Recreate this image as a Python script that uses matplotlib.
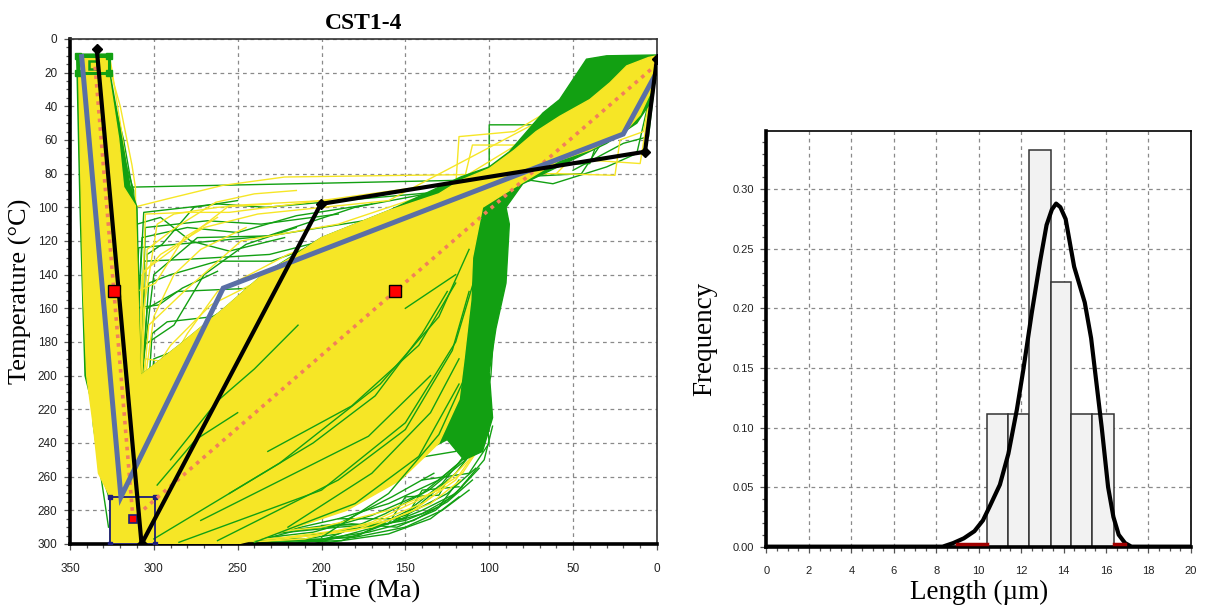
import matplotlib
matplotlib.use('Agg')
import matplotlib.pyplot as plt
from matplotlib.patches import Polygon, Rectangle
from matplotlib.ticker import MultipleLocator, FormatStrFormatter

SERIF = 'Liberation Serif'
SANS = 'Liberation Sans'

GREEN = '#12a012'
YELLOW = '#f6e626'
BLUE = '#5a6fa6'
SALMON = '#f2805a'
NAVY = '#1c1c7a'

# ---- thermal history (time in Ma, temperature in degC) ----
# constraint boxes: (t_old, t_young, T_low, T_high)
box_surface = (345, 327, 10, 20)
box_burial = (326, 299, 272, 300)

# best fit path
best_t = [334, 307.3, 200.4, 7.1, 0]
best_T = [6, 300, 98, 67, 12]

# weighted mean path
mean_t = [343, 319.6, 258.6, 20.1, 0]
mean_T = [10.5, 272, 148, 56.5, 19.5]

# path through constraint midpoints
mid_t = [335, 312.4, 0]
mid_T = [16.5, 285, 15]
mid_marks_t = [323.5, 156.2]
mid_marks_T = [150, 150]

# envelope of good fits
good_env_t = [345, 327, 327, 321, 318, 311, 308, 285, 258, 235, 215, 200, 175, 160, 130, 117,
              100, 85, 72, 58, 40, 28, 18, 5, 0, 0, 3, 10, 20, 40, 58, 88, 104, 110,
              111, 115, 118, 130, 153, 185, 230, 250, 326, 326, 333, 336, 340, 342, 344]
good_env_T = [10, 10, 20, 59, 88, 99, 200, 182, 160, 140, 128, 118, 108, 102, 92, 84,
              77, 66, 55, 46, 36, 26, 16, 11, 10, 20, 30, 45, 56, 66, 72, 90, 100, 130,
              155, 190, 214, 240, 262, 280, 295, 300, 300, 272, 258, 230, 200, 150, 60]

# envelope of acceptable fits
acc_env_t = [346, 326, 326, 319, 314, 310, 308, 285, 258, 235, 200, 160, 117, 100,
             88, 68, 58, 50, 42, 30, 0, 0, 4, 12, 30, 55, 80, 90, 88, 90, 96, 100,
             98, 104, 115, 125, 250, 326, 326, 331, 334, 341, 344]
acc_env_T = [9, 9, 21, 60, 88, 100, 200, 182, 160, 140, 118, 102, 82, 76,
             67, 44, 36, 24, 12, 10, 9.5, 20, 38, 50, 62, 74, 86, 100, 110, 145, 172, 198,
             225, 245, 250, 238, 300, 300, 272, 258, 228, 200, 100]

# individual acceptable paths outside the dense envelope
acc_paths = [
    [(345, 20), (343, 100), (340, 200), (334, 228), (331, 258), (326, 275)],
    [(344, 12), (341, 150), (336, 230), (327, 290)],
    [(328, 20), (318, 60), (313, 88), (311, 150), (309, 240), (305, 290)],
    [(329, 15), (322, 50), (316, 95), (314, 170), (311, 260), (308, 298)],
    [(327, 18), (317, 75), (315, 140), (312, 210), (307, 296)],
    [(328, 17), (318, 70), (312, 90), (310, 130)],
    [(316, 292), (313, 88), (215, 86), (120, 84), (45, 80), (12, 30), (0, 12)],
    [(318, 296), (309, 124), (231, 117), (150, 104), (95, 96), (40, 55), (0, 14)],
    [(312, 298), (306, 132), (282, 131), (231, 128), (160, 110), (80, 70), (0, 13)],
    [(314, 294), (304, 160), (286, 150), (240, 148), (150, 115), (70, 60), (0, 12)],
    [(310, 296), (300, 190), (268, 178), (228, 170), (130, 120), (50, 45), (0, 11)],
    [(320, 290), (310, 210), (282, 208), (245, 186), (150, 130), (90, 90), (0, 15)],
    [(308, 298), (296, 235), (270, 224), (230, 205), (140, 140), (60, 60), (0, 12)],
    [(316, 293), (306, 103), (262, 98), (233, 100), (120, 90), (70, 60), (0, 12)],
    [(318, 291), (300, 140), (274, 118), (232, 117), (180, 100), (100, 85), (0, 13)],
    [(312, 297), (298, 250), (276, 190), (240, 160), (170, 120), (100, 85), (0, 14)],
    [(306, 297), (303, 226), (288, 216), (262, 196), (205, 160), (130, 118)],
    [(311, 296), (305, 112), (268, 108), (236, 110), (190, 104)],
    [(317, 294), (307, 118), (280, 112), (250, 115), (215, 105), (170, 98)],
    [(313, 297), (303, 145), (290, 140), (262, 132), (230, 132), (190, 118)],
    [(309, 298), (301, 175), (292, 168), (265, 165), (238, 150), (200, 130)],
    [(315, 293), (306, 182), (288, 170), (270, 140), (245, 122), (215, 112)],
    [(319, 290), (311, 230), (300, 222), (280, 205), (255, 175), (225, 150)],
    [(307, 299), (297, 270), (286, 250), (270, 230), (250, 210)],
    [(318, 294), (310, 110), (296, 106), (278, 120), (255, 126), (222, 118)],
    [(314, 292), (304, 128), (295, 122), (276, 100), (250, 96)],
    [(311, 296), (306, 240), (296, 238), (274, 232), (250, 214)],
    [(320, 291), (313, 160), (297, 158), (283, 148), (262, 138)],
    [(120, 86), (100, 84), (100, 51), (60, 51), (30, 15), (0, 12)],
    [(50, 78), (35, 70), (20, 62), (5, 58), (0, 14)],
    [(70, 75), (40, 74), (30, 45), (10, 40), (0, 12)],
    [(95, 88), (75, 84), (62, 86), (30, 76), (12, 68), (0, 16)],
    [(300, 299), (240, 297), (205, 293), (170, 283), (140, 270), (118, 252), (104, 232)],
    [(290, 298), (230, 294), (190, 285), (160, 276), (130, 262), (110, 245), (100, 222)],
    [(280, 300), (215, 296), (175, 290), (150, 283), (125, 270), (108, 255)],
    [(305, 298), (260, 295), (220, 292), (190, 288), (158, 272), (133, 258)],
    [(270, 297), (200, 298), (185, 292), (150, 286), (130, 278), (118, 262)],
    [(250, 296), (190, 290), (160, 288), (140, 280), (120, 270), (103, 250), (98, 230)],
    [(298, 300), (250, 299), (215, 298), (180, 296), (150, 290), (128, 280), (112, 268)],
    [(285, 299), (235, 298), (200, 297), (172, 293), (145, 286), (125, 275), (110, 262)],
    [(300, 297), (255, 293), (225, 296), (195, 299), (160, 294), (135, 285), (118, 272)],
    [(275, 296), (240, 299), (205, 300), (168, 290), (140, 282), (122, 272), (106, 255)],
    [(310, 299), (260, 297), (230, 300), (190, 294), (162, 282), (136, 268), (114, 250)],
    [(246, 300), (215, 292), (182, 288), (155, 290), (132, 280), (116, 266)],
    [(290, 299), (225, 299), (188, 298), (158, 287), (142, 277), (120, 258), (106, 240)],
    [(268, 300), (220, 300), (178, 295), (148, 280), (128, 264), (112, 244)],
    [(200, 289), (160, 288), (150, 272), (130, 271), (125, 262)],
    [(190, 285), (150, 285), (140, 268), (118, 266)],
    [(150, 250), (120, 245), (105, 225), (99, 200), (97, 170), (92, 140), (90, 110)],
    [(140, 262), (112, 258), (100, 240), (103, 210), (100, 180), (95, 150), (93, 120)],
    [(130, 240), (110, 220), (102, 195), (98, 160), (96, 130), (92, 105)],
]

# individual good paths outside the dense envelope
good_paths = [
    [(326, 12), (320, 50), (315, 85), (312, 180), (306, 300)],
    [(327, 15), (320, 40), (313, 75), (311, 88), (309, 200)],
    [(318, 292), (312, 100), (292, 95), (259, 87), (222, 82), (150, 81), (60, 80), (20, 40), (0, 12)],
    [(315, 295), (306, 138), (290, 126), (255, 99), (180, 95), (100, 82), (40, 45), (0, 12)],
    [(312, 297), (305, 104), (280, 103), (255, 103), (200, 96), (120, 85), (0, 12)],
    [(316, 294), (300, 210), (280, 175), (262, 150), (220, 128), (140, 100), (60, 55), (0, 12)],
    [(309, 298), (299, 260), (285, 230), (250, 180), (200, 145), (120, 100), (40, 40), (0, 11)],
    [(314, 296), (303, 170), (282, 150), (248, 120), (190, 110), (100, 80), (0, 12)],
    [(313, 296), (307, 140), (296, 128), (270, 112), (238, 104), (160, 96), (0, 12)],
    [(311, 298), (302, 200), (290, 182), (266, 158), (230, 140), (150, 110), (0, 13)],
    [(317, 293), (309, 230), (300, 165), (288, 140), (272, 125), (245, 112)],
    [(313, 296), (303, 240), (292, 205), (276, 178), (252, 160)],
    [(311, 297), (304, 125), (287, 112), (263, 97), (240, 92), (215, 90)],
    [(319, 291), (310, 150), (299, 145), (282, 118), (262, 106)],
    [(308, 299), (298, 222), (284, 196), (262, 170), (240, 150)],
    [(315, 295), (307, 260), (294, 250), (280, 232), (262, 205)],
    [(316, 294), (305, 190), (292, 192), (275, 198), (258, 176), (230, 152)],
    [(312, 296), (306, 160), (298, 110), (288, 104), (262, 100), (230, 98)],
    [(115, 84), (110, 63), (78, 63), (50, 50), (0, 12)],
    [(60, 80), (25, 81), (22, 60), (8, 55), (0, 12)],
    [(40, 72), (10, 74), (3, 30), (0, 12)],
    [(120, 88), (118, 58), (85, 55), (60, 40), (0, 12)],
    [(280, 298), (200, 290), (160, 280), (130, 268), (112, 250), (105, 230)],
    [(240, 299), (180, 292), (140, 276), (120, 262), (108, 245)],
    [(265, 300), (210, 297), (170, 287), (138, 272), (116, 258), (104, 240)],
    [(300, 300), (230, 297), (190, 292), (160, 286), (135, 276), (117, 262)],
    [(260, 299), (205, 295), (170, 290), (145, 280), (126, 266)],
]

# acceptable paths crossing the dense good-fit area
acc_streaks = [
    [(285, 299), (200, 268), (150, 228), (120, 180), (108, 140)],
    [(262, 298), (190, 262), (150, 232), (122, 185), (112, 150)],
    [(300, 297), (225, 252), (165, 205), (130, 165), (112, 125)],
    [(240, 299), (180, 276), (142, 248), (118, 205)],
    [(232, 245), (182, 218), (142, 182), (120, 145)],
    [(272, 286), (212, 256), (172, 236), (135, 200)],
    [(220, 290), (170, 258), (135, 222), (118, 190)],
    [(200, 296), (160, 270), (130, 235), (114, 200)],
    [(255, 270), (205, 240), (168, 212), (140, 175), (125, 150)],
    [(150, 160), (135, 150), (120, 140)],
    [(290, 250), (262, 215), (240, 196), (214, 170)],
    [(298, 265), (275, 238), (250, 222)],
]

# ---- track length distribution ----
bin_edges = [10.4, 11.38, 12.36, 13.4, 14.37, 15.36, 16.38]
freq = [0.111, 0.111, 0.333, 0.222, 0.111, 0.111]
pdf_x = [0, 8.3, 8.8, 9.3, 9.8, 10.2, 10.5, 11.0, 11.4, 11.8, 12.1, 12.5, 12.9, 13.2,
         13.45, 13.65, 13.85, 14.1, 14.5, 15.0, 15.3, 15.6, 15.8, 16.1, 16.35, 16.6,
         16.9, 17.2, 20]
pdf_y = [0, 0, 0.003, 0.007, 0.013, 0.022, 0.033, 0.052, 0.078, 0.115, 0.148, 0.196,
         0.24, 0.27, 0.283, 0.288, 0.285, 0.275, 0.235, 0.205, 0.175, 0.13, 0.1, 0.05,
         0.025, 0.01, 0.003, 0, 0]

fig = plt.figure(figsize=(12.08, 6.07), dpi=100)
ax = fig.add_axes([0.0579, 0.1038, 0.4859, 0.8320])
ax2 = fig.add_axes([0.6345, 0.0994, 0.3513, 0.6849])


def style_axes(a):
    a.set_axisbelow(True)
    a.tick_params(which='both', direction='out', color='#555', width=0.9,
                  top=False, right=False)
    a.tick_params(which='major', length=4)
    a.tick_params(which='minor', length=3)
    for s in ['left', 'bottom']:
        a.spines[s].set_linewidth(2.6)
        a.spines[s].set_color('black')
    for s in ['top', 'right']:
        a.spines[s].set_linewidth(1.2)
        a.spines[s].set_color('#333')
    for lab in a.get_xticklabels() + a.get_yticklabels():
        lab.set_fontfamily(SANS)
        lab.set_color('#222')


# ---- t-T paths ----
for p in acc_paths:
    ax.plot([q[0] for q in p], [q[1] for q in p], color=GREEN, lw=1.0, zorder=1)
for p in good_paths:
    ax.plot([q[0] for q in p], [q[1] for q in p], color=YELLOW, lw=1.0, zorder=1.5)
ax.add_patch(Polygon(list(zip(acc_env_t, acc_env_T)), closed=True, fc=GREEN,
                     ec=GREEN, lw=1, zorder=2))
ax.add_patch(Polygon(list(zip(good_env_t, good_env_T)), closed=True, fc=YELLOW,
                     ec=YELLOW, lw=1, zorder=3))
for p in acc_streaks:
    ax.plot([q[0] for q in p], [q[1] for q in p], color=GREEN, lw=1.0, zorder=3.5)

# constraint boxes
t0, t1, T0, T1 = box_surface
ax.add_patch(Rectangle((t1, T0), t0 - t1, T1 - T0, fill=False, ec=GREEN, lw=2.2, zorder=4))
ax.plot([t0, t1, t0, t1], [T0, T0, T1, T1], 's', color=GREEN, ms=4, zorder=4)
ax.plot([336], [15.4], 's', mfc='none', mec=GREEN, mew=1.8, ms=6, zorder=4)
t0, t1, T0, T1 = box_burial
ax.add_patch(Rectangle((t1, T0), t0 - t1, T1 - T0, fill=False, ec=NAVY, lw=1.3, zorder=4))
ax.plot([t0, t1, t0, t1], [T0, T0, T1, T1], 's', color=NAVY, ms=3, zorder=4)
ax.plot([312.4], [285.3], 's', mfc='red', mec=NAVY, mew=1.2, ms=6, zorder=6)

ax.plot(mid_t, mid_T, color=SALMON, lw=2.6, ls=(0, (1, 1.4)), zorder=5)
ax.plot(mean_t, mean_T, color=BLUE, lw=3.6, zorder=5.5, solid_joinstyle='miter')
ax.plot(best_t, best_T, color='black', lw=3.0, marker='D', ms=5.5, zorder=6)
ax.plot(mid_marks_t, mid_marks_T, 's', mfc='red', mec='black', mew=1.0, ms=8, zorder=7)

ax.set_xlim(350, 0)
ax.set_ylim(300, 0)
ax.xaxis.set_major_locator(MultipleLocator(50))
ax.xaxis.set_minor_locator(MultipleLocator(10))
ax.yaxis.set_major_locator(MultipleLocator(20))
ax.yaxis.set_minor_locator(MultipleLocator(5))
ax.grid(which='major', ls=(0, (3, 3)), color='#8a8a8a', lw=0.9)
style_axes(ax)
ax.tick_params(axis='x', labelsize=8.5, pad=10)
ax.tick_params(axis='y', labelsize=8.5, pad=5)
ax.set_xlabel('Time (Ma)', fontsize=19, family=SERIF, labelpad=3)
ax.set_ylabel('Temperature (°C)', fontsize=19, family=SERIF, labelpad=4)
ax.set_title('CST1-4', fontsize=17, fontweight='bold', family=SERIF, pad=7)

# ---- length histogram ----
widths = [bin_edges[i + 1] - bin_edges[i] for i in range(len(freq))]
ax2.bar(bin_edges[:-1], freq, width=widths, align='edge', color='#f2f2f2',
        edgecolor='#333', lw=1.1, zorder=2)
ax2.plot([9.0, 10.4], [0.002, 0.002], color='#a00000', lw=2.5, zorder=3.5)
ax2.plot([16.4, 16.9], [0.002, 0.002], color='#a00000', lw=2.5, zorder=3.5)
ax2.plot(pdf_x, pdf_y, color='black', lw=3.0, zorder=3)
ax2.set_xlim(0, 20)
ax2.set_ylim(0, 0.349)
ax2.xaxis.set_major_locator(MultipleLocator(2))
ax2.xaxis.set_minor_locator(MultipleLocator(0.5))
ax2.yaxis.set_major_locator(MultipleLocator(0.05))
ax2.yaxis.set_minor_locator(MultipleLocator(0.01))
ax2.yaxis.set_major_formatter(FormatStrFormatter('%.2f'))
ax2.grid(which='major', ls=(0, (3, 3)), color='#8a8a8a', lw=0.9)
style_axes(ax2)
for s in ['top', 'right']:
    ax2.spines[s].set_color('black')
ax2.tick_params(axis='x', labelsize=8, pad=10)
ax2.tick_params(axis='y', labelsize=8, pad=5)
ax2.set_xlabel('Length (µm)', fontsize=19.5, family=SERIF, labelpad=3)
ax2.set_ylabel('Frequency', fontsize=19.5, family=SERIF, labelpad=11)

fig.savefig('out.png', dpi=100)
